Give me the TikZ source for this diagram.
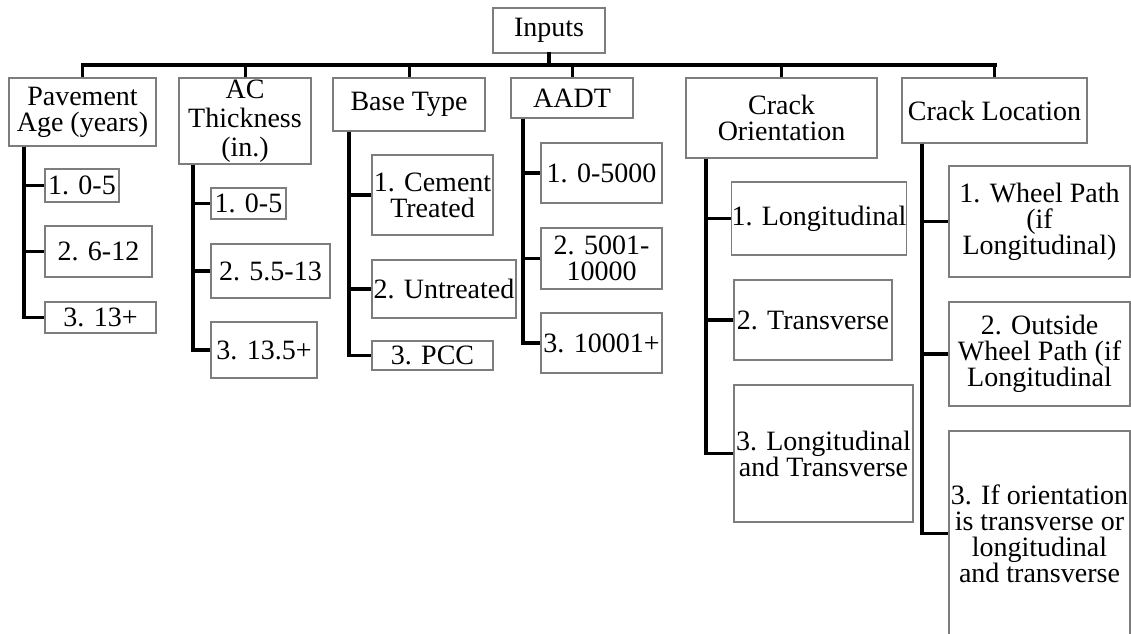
\documentclass[tikz,border=0pt]{standalone}
\usepackage{fontspec}
\setmainfont{Liberation Serif}
\definecolor{boxgray}{RGB}{125,125,125}
% a labelled box given by its corners: name, x1, y1, x2, y2, text
\newcommand\boxnode[6]{%
  \node[box, minimum width={(#4)-(#2)}, minimum height={(#5)-(#3)}]
    (#1) at ({((#2)+(#4))/2},{((#3)+(#5))/2}) {#6};}
\begin{document}
\begin{tikzpicture}[x=1pt,y=-1pt,
  box/.style={draw=boxgray, line width=1.2pt, fill=white, inner sep=0pt,
    align=center, font=\fontsize{28}{26}\selectfont},
  bus/.style={line width=4pt, line cap=rect},
  drop/.style={line width=3pt},
  conn/.style={line width=3.5pt, line join=miter}]
\useasboundingbox (0,0) rectangle (1131,633);
\clip (0,0) rectangle (1131,633);

% top level
\boxnode{inputs}{493}{8}{605}{53}{Inputs}
\boxnode{pa}{9}{78}{156}{146}{Pavement\\Age (years)}
\boxnode{ac}{179}{78}{311}{164}{AC\\[3pt]Thickness\\[3pt](in.)}
\boxnode{bt}{333}{78}{485}{131}{Base Type}
\boxnode{aadt}{511}{78}{633}{118}{AADT}
\boxnode{co}{686}{78}{877}{158}{Crack\\Orientation}
\boxnode{cl}{902}{78}{1087}{143}{Crack Location}

% categories
\boxnode{paA}{45}{169}{119}{202}{1. 0-5}
\boxnode{paB}{45}{226}{152}{277}{2. 6-12}
\boxnode{paC}{45}{302}{156}{333}{3. 13+}
\boxnode{acA}{211}{188}{286}{219}{1. 0-5}
\boxnode{acB}{211}{244}{330}{298}{2. 5.5-13}
\boxnode{acC}{211}{322}{317}{378}{3. 13.5+}
\boxnode{btA}{372}{155}{493}{235}{1. Cement\\Treated}
\boxnode{btB}{372}{260}{516}{318}{2. Untreated}
\boxnode{btC}{372}{341}{493}{370}{3. PCC}
\boxnode{adA}{541}{143}{662}{203}{1. 0-5000}
\boxnode{adB}{541}{228}{662}{289}{2. 5001-\\10000}
\boxnode{adC}{541}{313}{662}{373}{3. 10001+}
\boxnode{coA}{734}{182}{904}{255}{1. Longitudinal}
\boxnode{coB}{734}{280}{892}{360}{2. Transverse}
\boxnode{coC}{734}{385}{913}{522}{3. Longitudinal\\and Transverse}
\boxnode{clA}{949}{166}{1130}{277}{1. Wheel Path\\(if\\Longitudinal)}
\boxnode{clB}{949}{302}{1130}{406}{2. Outside\\Wheel Path (if\\Longitudinal}
\boxnode{clC}{949}{431}{1130}{636}{3. If orientation\\is transverse or\\longitudinal\\and transverse}

% bus under the root
\coordinate (busY) at (0,65);
\draw[bus] (inputs.south) -- (inputs.south |- busY);
\draw[bus] (pa.north |- busY) -- (cl.north |- busY);
\foreach \n in {pa,ac,bt,aadt,co,cl}
  \draw[drop] (\n.north) -- (\n.north |- busY);

% spines under each input
\coordinate (paV) at (24,0);
\coordinate (acV) at (193,0);
\coordinate (btV) at (349,0);
\coordinate (adV) at (523,0);
\coordinate (coV) at (706,0);
\coordinate (clV) at (922,0);
\foreach \p/\v/\c in {pa/paV/paA, pa/paV/paB, pa/paV/paC,
                      ac/acV/acA, ac/acV/acB, ac/acV/acC,
                      bt/btV/btA, bt/btV/btB, bt/btV/btC,
                      aadt/adV/adA, aadt/adV/adB, aadt/adV/adC,
                      co/coV/coA, co/coV/coB, co/coV/coC,
                      cl/clV/clA, cl/clV/clB, cl/clV/clC}
  \draw[conn] (\v |- \p.south) |- (\c.west);
\end{tikzpicture}
\end{document}
